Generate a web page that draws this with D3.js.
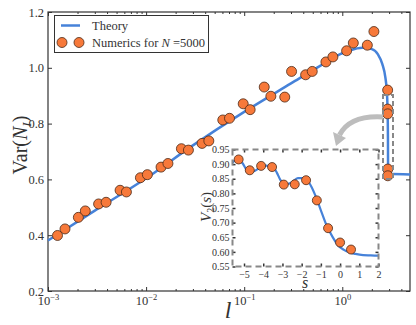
<!DOCTYPE html>
<html>
<head>
<meta charset="utf-8">
<script src="https://cdn.jsdelivr.net/npm/d3@7"></script>
<style>
  body { margin: 0; background: #fff; }
  svg text { font-family: "Liberation Serif", "DejaVu Serif", serif; fill: #333; }
  .tick line { stroke: #333; }
</style>
</head>
<body>
<svg id="chart" width="416" height="325"></svg>
<script>
// main panel: theory curve (l, Var)
var theoryL = [0.001, 0.003, 0.01, 0.03, 0.1, 0.3, 0.6, 0.94, 1.2, 1.6, 2.0, 2.3, 2.56, 2.75, 2.84, 2.89, 2.92, 2.93, 4.9];
var theoryV = [0.381, 0.488, 0.604, 0.722, 0.842, 0.944, 1.008, 1.048, 1.063, 1.072, 1.067, 1.049, 1.013, 0.965, 0.918, 0.86, 0.75, 0.62, 0.618];

// numerics for N = 5000
var numL = [0.00125, 0.00149, 0.00204, 0.0024, 0.00328, 0.00391, 0.00543, 0.0063, 0.00875, 0.0103,
  0.0142, 0.0167, 0.0229, 0.027, 0.0372, 0.0436, 0.0605, 0.0708, 0.0977, 0.115,
  0.16, 0.187, 0.259, 0.304, 0.423, 0.494, 0.681, 0.802, 1.107, 1.295,
  1.8, 2.1, 2.9, 2.9, 2.9, 2.91, 2.91];
var numV = [0.399, 0.4225, 0.464, 0.487, 0.512, 0.518, 0.561, 0.555, 0.606, 0.617,
  0.644, 0.657, 0.71, 0.705, 0.729, 0.738, 0.813, 0.819, 0.871, 0.85,
  0.931, 0.898, 0.895, 0.987, 0.975, 0.987, 1.021, 1.039, 1.061, 1.089,
  1.081, 1.13, 0.92, 0.852, 0.835, 0.637, 0.613];

var yTicks = [0.2, 0.4, 0.6, 0.8, 1.0, 1.2];
var xTicks = [0.001, 0.01, 0.1, 1];
var xExps = ["\u22123", "\u22122", "\u22121", "0"];

// inset: V2(s)
var insS = [-5.6, -5.4, -5.1, -4.8, -4.5, -4.2, -3.85, -3.5, -3.3, -3.1, -2.85, -2.5, -2.2, -1.9, -1.6, -1.3, -1.0, -0.7, -0.4, -0.1, 0.2, 0.5, 0.8, 1.2, 1.6, 2.0];
var insV = [0.905, 0.915, 0.905, 0.877, 0.876, 0.887, 0.895, 0.889, 0.872, 0.845, 0.83, 0.838, 0.852, 0.852, 0.835, 0.795, 0.742, 0.69, 0.652, 0.622, 0.607, 0.598, 0.593, 0.589, 0.588, 0.587];
var insPtS = [-5.28, -4.7, -4.11, -3.54, -2.93, -2.36, -1.77, -1.21, -0.625, 0.0, 0.57];
var insPtV = [0.916, 0.879, 0.894, 0.89, 0.83, 0.831, 0.845, 0.776, 0.681, 0.632, 0.608];
var insXTicks = [-5, -4, -3, -2, -1, 0, 1, 2];
var insYTicks = [0.55, 0.6, 0.65, 0.7, 0.75, 0.8, 0.85, 0.9, 0.95];

var blue = "#4682d9";
var orange = "#f7793a";
var edge = "#4a2a18";

var svg = d3.select("#chart");

var mL = 48, mR = 410, mT = 12, mB = 291;
var x = d3.scaleLog().domain([1e-3, 4.9]).range([mL, mR]);
var y = d3.scaleLinear().domain([0.2, 1.2]).range([mB, mT]);

// minor tick positions for the log axis
var minor = [];
for (var e = -3; e <= 0; e++) {
  for (var m = 2; m <= 9; m++) {
    var v = m * Math.pow(10, e);
    if (v <= 4.9) minor.push(v);
  }
}

// axes, ticks inward
var gx = svg.append("g").attr("transform", "translate(0," + mB + ")")
  .call(d3.axisBottom(x).tickValues(xTicks).tickSize(-4).tickPadding(5));
gx.selectAll(".tick text").each(function (d, i) {
  var t = d3.select(this).text(null).attr("font-size", 12.5);
  t.append("tspan").text("10");
  t.append("tspan").attr("dy", -5).attr("font-size", 8.5).text(xExps[i]);
});
svg.append("g").attr("transform", "translate(0," + mB + ")")
  .call(d3.axisBottom(x).tickValues(minor).tickSize(-2).tickFormat(""));
svg.append("g").attr("transform", "translate(0," + mT + ")")
  .call(d3.axisTop(x).tickValues(xTicks).tickSize(-4).tickFormat(""));
svg.append("g").attr("transform", "translate(0," + mT + ")")
  .call(d3.axisTop(x).tickValues(minor).tickSize(-2).tickFormat(""));
svg.append("g").attr("transform", "translate(" + mL + ",0)")
  .call(d3.axisLeft(y).tickValues(yTicks).tickSize(-4).tickPadding(4).tickFormat(d3.format(".1f")))
  .selectAll("text").attr("font-size", 12.5);
svg.append("g").attr("transform", "translate(" + mR + ",0)")
  .call(d3.axisRight(y).tickValues(yTicks).tickSize(-4).tickFormat(""));
svg.selectAll(".domain").remove();
svg.append("rect").attr("x", mL).attr("y", mT).attr("width", mR - mL).attr("height", mB - mT)
  .attr("fill", "none").attr("stroke", "#333").attr("stroke-width", 1.2);

// axis labels
var yl = svg.append("text").attr("transform", "translate(27,145) rotate(-90)")
  .attr("text-anchor", "middle").attr("font-size", 20);
yl.append("tspan").text("Var(");
yl.append("tspan").attr("font-style", "italic").text("N");
yl.append("tspan").attr("font-style", "italic").attr("font-size", 13).attr("dy", 4).text("I");
yl.append("tspan").attr("dy", -4).text(")");
svg.append("text").attr("x", 228).attr("y", 318).attr("text-anchor", "middle")
  .attr("font-size", 24).attr("font-style", "italic").text("l");

// theory line
var line = d3.line().x(function (d) { return x(d[0]); }).y(function (d) { return y(d[1]); })
  .curve(d3.curveMonotoneX);
svg.append("path").datum(d3.zip(theoryL, theoryV)).attr("d", line)
  .attr("fill", "none").attr("stroke", blue).attr("stroke-width", 2.5);

// numerics
svg.selectAll(".pt").data(d3.zip(numL, numV)).enter().append("circle")
  .attr("cx", function (d) { return x(d[0]); }).attr("cy", function (d) { return y(d[1]); })
  .attr("r", 5).attr("fill", orange).attr("stroke", edge).attr("stroke-width", 0.8);

// legend
var lg = svg.append("g");
lg.append("rect").attr("x", 54.5).attr("y", 15.5).attr("width", 154).attr("height", 37)
  .attr("fill", "#fff").attr("stroke", "#333").attr("stroke-width", 1);
lg.append("line").attr("x1", 61).attr("x2", 80).attr("y1", 25.5).attr("y2", 25.5)
  .attr("stroke", blue).attr("stroke-width", 2.5);
lg.append("text").attr("x", 92).attr("y", 30).attr("font-size", 12.5).text("Theory");
[62, 79].forEach(function (cx) {
  lg.append("circle").attr("cx", cx).attr("cy", 42.5).attr("r", 5)
    .attr("fill", orange).attr("stroke", edge).attr("stroke-width", 0.8);
});
var lt = lg.append("text").attr("x", 92).attr("y", 47).attr("font-size", 12.5);
lt.append("tspan").text("Numerics for ");
lt.append("tspan").attr("font-style", "italic").text("N");
lt.append("tspan").text(" =5000");

// small dashed box round the drop
svg.append("rect").attr("x", 383).attr("y", 95).attr("width", 10).attr("height", 84)
  .attr("fill", "none").attr("stroke", "#888").attr("stroke-width", 2).attr("stroke-dasharray", "5,3");

// gray arrow
svg.append("path").attr("d", "M383,117 Q350,115 339.5,135")
  .attr("fill", "none").attr("stroke", "#bdbdbd").attr("stroke-width", 5);
svg.append("path").attr("d", "M333,132 L346,138 L336,146 Z").attr("fill", "#bdbdbd");

// inset
var iL = 232.5, iR = 378.5, iT = 149.5, iB = 266.5;
var xi = d3.scaleLinear().domain([-5.6, 2]).range([iL, iR]);
var yi = d3.scaleLinear().domain([0.55, 0.95]).range([iB, iT]);
var ins = svg.append("g").attr("class", "inset");
ins.append("rect").attr("x", iL).attr("y", iT).attr("width", iR - iL).attr("height", iB - iT).attr("fill", "#fff");

var ib = ins.append("g").attr("transform", "translate(0," + iB + ")")
  .call(d3.axisBottom(xi).tickValues(insXTicks).tickSize(-3).tickPadding(4).tickFormat(d3.format("d")));
ib.selectAll("text").attr("font-size", 10);
ins.append("g").attr("transform", "translate(0," + iT + ")")
  .call(d3.axisTop(xi).tickValues(insXTicks).tickSize(-3).tickFormat(""));
var il = ins.append("g").attr("transform", "translate(" + iL + ",0)")
  .call(d3.axisLeft(yi).tickValues(insYTicks).tickSize(-3).tickPadding(3).tickFormat(d3.format(".2f")));
il.selectAll("text").attr("font-size", 10);
ins.append("g").attr("transform", "translate(" + iR + ",0)")
  .call(d3.axisRight(yi).tickValues(insYTicks).tickSize(-3).tickFormat(""));
ins.selectAll(".domain").remove();
ins.selectAll(".tick line").attr("stroke", "#888").attr("stroke-width", 1.5);

var iline = d3.line().x(function (d) { return xi(d[0]); }).y(function (d) { return yi(d[1]); })
  .curve(d3.curveMonotoneX);
ins.append("path").datum(d3.zip(insS, insV)).attr("d", iline)
  .attr("fill", "none").attr("stroke", blue).attr("stroke-width", 2.2);
ins.selectAll(".ipt").data(d3.zip(insPtS, insPtV)).enter().append("circle")
  .attr("cx", function (d) { return xi(d[0]); }).attr("cy", function (d) { return yi(d[1]); })
  .attr("r", 4.5).attr("fill", orange).attr("stroke", edge).attr("stroke-width", 0.8);

ins.append("rect").attr("x", iL).attr("y", iT).attr("width", iR - iL).attr("height", iB - iT)
  .attr("fill", "none").attr("stroke", "#888").attr("stroke-width", 2).attr("stroke-dasharray", "6,4");

var vl = ins.append("text").attr("transform", "translate(211,207) rotate(-90)")
  .attr("text-anchor", "middle").attr("font-size", 15);
vl.append("tspan").attr("font-style", "italic").text("V");
vl.append("tspan").attr("font-size", 10).attr("dy", 3).text("2");
vl.append("tspan").attr("dy", -3).text("(");
vl.append("tspan").attr("font-style", "italic").text("s");
vl.append("tspan").text(")");
ins.append("text").attr("x", 305).attr("y", 288).attr("text-anchor", "middle")
  .attr("font-size", 16).attr("font-style", "italic").text("s");
</script>
</body>
</html>
